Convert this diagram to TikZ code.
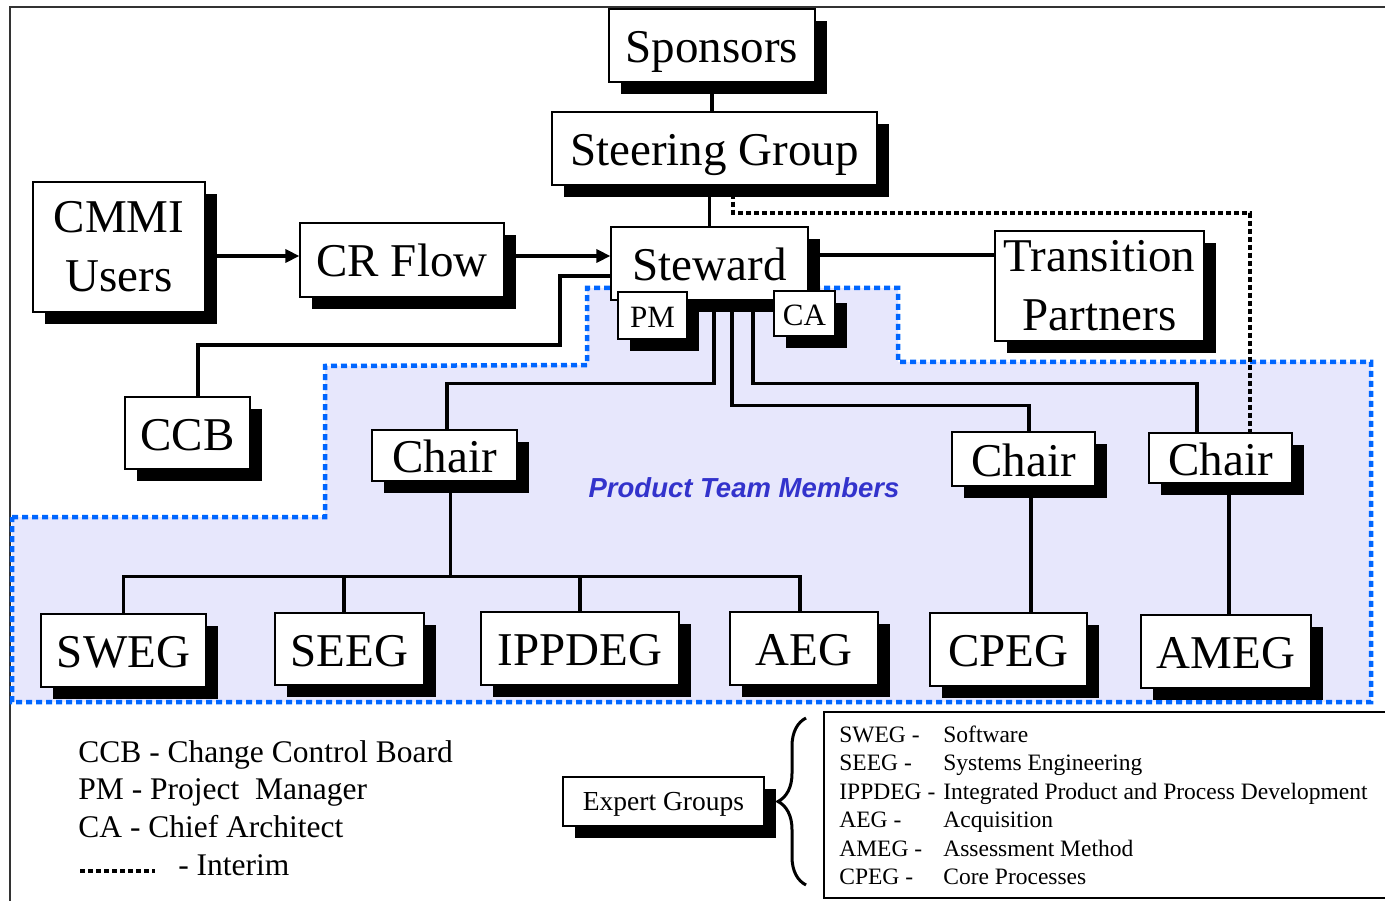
\documentclass[tikz,border=0pt]{standalone}
\usepackage{fontspec}
\setmainfont{Liberation Serif}
\newfontfamily\arialfont{Liberation Sans}
\usetikzlibrary{shadows,arrows.meta,backgrounds,decorations.pathreplacing}

\definecolor{teamblue}{RGB}{0,102,255}
\definecolor{teamfill}{RGB}{231,231,252}
\definecolor{teamtext}{RGB}{51,51,204}

\tikzset{every picture/.style={line width=0.75pt}}
\tikzset{
  box/.style={draw, fill=white, line width=1.2, inner sep=0pt, align=center,
    font=\fontsize{47}{57}\selectfont, text height=34pt, text depth=0pt,
    drop shadow={shadow xshift=12pt, shadow yshift=-12pt, fill=black, opacity=1}},
  twoline/.style={box, text height=, text depth=},
  smallbox/.style={box, font=\fontsize{31}{36}\selectfont, text height=25pt},
  link/.style={line width=3.2},
  interim/.style={line width=4, dash pattern=on 5pt off 3pt},
  arr/.style={line width=3.2, -{Triangle[length=14pt,width=13pt]}},
  key/.style={anchor=base west, inner sep=0pt},
}

\begin{document}
\begin{tikzpicture}[x=1pt,y=1pt,yscale=-1,xscale=1]
\useasboundingbox (0,0) rectangle (1385,901);

% Text Node
\node[box, minimum width=206, minimum height=73] (sponsors) at (712,45.5) {Sponsors};
% Text Node
\node[box, minimum width=325, minimum height=73] (steering) at (714.5,148.5) {Steering Group};
% Text Node
\node[box, minimum width=197, minimum height=73] (steward) at (709.5,263.5) {Steward};
% Text Node
\node[twoline, minimum width=172, minimum height=130] (cmmi) at (119,247) {CMMI\\[2pt]Users};
% Text Node
\node[box, minimum width=204, minimum height=74] (crflow) at (402,260) {CR Flow};
% Text Node
\node[twoline, minimum width=209, minimum height=110] (transition) at (1099.5,286) {Transition\\[2pt]Partners};
% Text Node
\node[smallbox, minimum width=69, minimum height=47] (pm) at (652.5,315.5) {PM};
% Text Node
\node[smallbox, minimum width=61, minimum height=45] (ca) at (804.5,313.5) {CA};
% Text Node
\node[box, minimum width=125, minimum height=72] (ccb) at (187.5,433) {CCB};
% Text Node
\node[box, minimum width=145, minimum height=51] (chair1) at (444.5,455.5) {Chair};
% Text Node
\node[box, minimum width=143, minimum height=54] (chair2) at (1023.5,459) {Chair};
% Text Node
\node[box, minimum width=143, minimum height=50] (chair3) at (1220.5,458) {Chair};
% Text Node
\node[box, minimum width=165, minimum height=73] (sweg) at (123.5,650.5) {SWEG};
% Text Node
\node[box, minimum width=149, minimum height=72] (seeg) at (349.5,649) {SEEG};
% Text Node
\node[box, minimum width=198, minimum height=73] (ippdeg) at (580,648.5) {IPPDEG};
% Text Node
\node[box, minimum width=148, minimum height=73] (aeg) at (804,648.5) {AEG};
% Text Node
\node[box, minimum width=157, minimum height=73] (cpeg) at (1008.5,649.5) {CPEG};
% Text Node
\node[box, minimum width=170, minimum height=73] (ameg) at (1226,651.5) {AMEG};
% Text Node
\node[font=\arialfont\bfseries\itshape\fontsize{27.5}{32}\selectfont, text=teamtext] (team) at (744,488) {Product Team Members};

% Text Node
\node[box, font=\fontsize{27.5}{32}\selectfont, text height=17pt, minimum width=201, minimum height=49] (expert) at (663.5,801.5) {Expert Groups};

%Legend, left
\node[key, font=\fontsize{31.5}{36}\selectfont] (ccbkey) at (78,762) {CCB - Change Control Board};
\node[key, font=\fontsize{31.5}{36}\selectfont] (pmkey) at (78,799) {PM - Project\ \ Manager};
\node[key, font=\fontsize{31.5}{36}\selectfont] (cakey) at (78,837) {CA - Chief Architect};
\draw[interim] (80,871) -- (155,871);
\node[key, font=\fontsize{31.5}{36}\selectfont] (interimkey) at (178,875) {- Interim};

%Legend, right
\draw[line width=1.5] (824,712) rectangle (1400,898);
\draw[line width=3, decorate, decoration={brace, amplitude=28pt}] (806,885) -- (806,718);
\foreach \grp/\desc [count=\i] in {SWEG/Software, SEEG/Systems Engineering, IPPDEG/Integrated Product and Process Development, AEG/Acquisition, AMEG/Assessment Method, CPEG/Core Processes}{
  \node[key, font=\fontsize{23.5}{27}\selectfont] (grp\i) at (839,713.5+28.5*\i) {\grp\ -};
  \node[key, font=\fontsize{23.5}{27}\selectfont] (desc\i) at (943,713.5+28.5*\i) {\desc};
}

\begin{scope}[on background layer]
%Shape: Frame
\draw[line width=2, black!80] (10,901) -- (10,7.5) -- (1385,7.5);
%Shape: Product team area
\draw[fill=teamfill, draw=teamblue, line width=4.5, dash pattern=on 6pt off 4pt]
  (12,517) -- (325,517) -- (325,366) -- (587,365) -- (587,288) -- (898,288) -- (898,362) -- (1371,362) -- (1371,702) -- (12,702) -- cycle;

%Straight Lines
\draw[link] (sponsors.south) -- (sponsors.south |- steering.north);
\draw[link] (steward.north) -- (steward.north |- steering.south);
\draw[arr] ([yshift=9pt]cmmi.east) -- ([yshift=-4pt]crflow.west);
\draw[arr] ([yshift=-4pt]crflow.east) -- ([yshift=-7.5pt]steward.west);
\draw[link] ([yshift=-8.5pt]steward.east) -- ([yshift=-8.5pt]steward.east -| transition.west);
\coordinate (ccbbend) at (560,345);
\draw[link] ([yshift=12.5pt]steward.west) -| (ccbbend) -| ([xshift=10.5pt]ccb.north);
\draw[link] ([xshift=4.5pt]steward.south) -- ++(0,83) -| ([xshift=2.5pt]chair1.north);
\draw[link] ([xshift=22.5pt]steward.south) -- ++(0,105) -| ([xshift=5.5pt]chair2.north);
\draw[link] ([xshift=43.5pt]steward.south) -- ++(0,83) -| ([xshift=-23.5pt]chair3.north);
\draw[interim] ([xshift=18.5pt]steering.south) -- ++(0,27) -| ([xshift=29.5pt]chair3.north);
\draw[link] ([xshift=6pt]chair1.south) -- ++(0,95) coordinate (bus);
\draw[link] (sweg.north) |- ([xshift=-4pt]aeg.north |- bus) -- ([xshift=-4pt]aeg.north);
\draw[link] ([xshift=-5.5pt]seeg.north) -- ([xshift=-5.5pt]seeg.north |- bus);
\draw[link] (ippdeg.north) -- (ippdeg.north |- bus);
\draw[link] ([xshift=7.5pt]chair2.south) -- ([xshift=7.5pt]chair2.south |- cpeg.north);
\draw[link] ([xshift=8.5pt]chair3.south) -- ([xshift=8.5pt]chair3.south |- ameg.north);
\end{scope}

\end{tikzpicture}
\end{document}
